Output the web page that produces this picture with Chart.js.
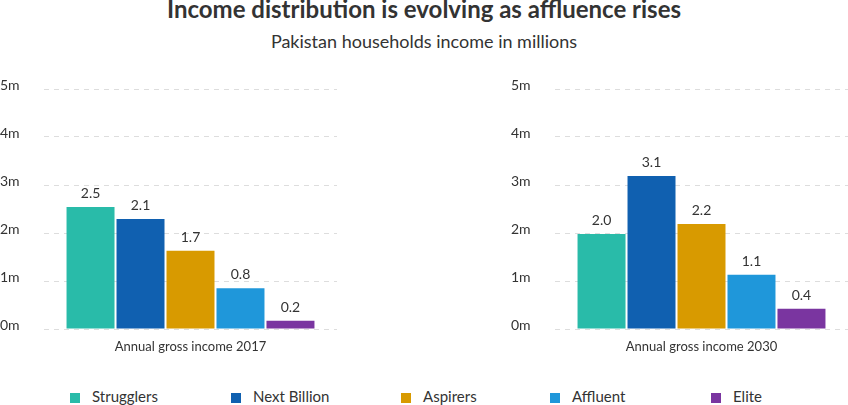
<!DOCTYPE html>
<html>
<head>
<meta charset="utf-8">
<script src="https://cdn.jsdelivr.net/npm/chart.js@4"></script>
<style>
  body { margin: 0; width: 848px; height: 405px; background: #fff; font-family: Lato, sans-serif; color: #333; overflow: hidden; position: relative; }
  .title { position: absolute; left: 0; width: 848px; top: -4px; text-align: center; font-size: 24px; line-height: 26px; font-weight: bold; }
  .subtitle { position: absolute; left: 0; width: 848px; top: 30px; text-align: center; font-size: 18px; line-height: 22px; }
  .panel { position: absolute; top: 69px; width: 337px; height: 300px; }
  .legend-item { position: absolute; top: 387px; font-size: 15px; line-height: 18px; white-space: nowrap; }
  .legend-item span.box { position: absolute; left: 0; top: 6px; width: 10px; height: 10px; }
  .legend-item span.txt { position: absolute; left: 22px; top: 0; }
</style>
</head>
<body>
<div class="title">Income distribution is evolving as affluence rises</div>
<div class="subtitle">Pakistan households income in millions</div>
<div class="panel" style="left:0"><canvas id="c2017"></canvas></div>
<div class="panel" style="left:511px"><canvas id="c2030"></canvas></div>
<div id="legend"></div>

<script>
const segments = ['Strugglers', 'Next Billion', 'Aspirers', 'Affluent', 'Elite'];
const colors = ['#29bba9', '#1060b0', '#d89a00', '#1f97da', '#7a35a0'];

// bar heights as drawn, and the printed labels above them
const values2017 = [2.54, 2.29, 1.63, 0.85, 0.17];
const labels2017 = ['2.5', '2.1', '1.7', '0.8', '0.2'];
const values2030 = [1.98, 3.19, 2.19, 1.13, 0.42];
const labels2030 = ['2.0', '3.1', '2.2', '1.1', '0.4'];

const yTicks = [0, 1, 2, 3, 4, 5];
const legendLeft = [70, 231, 401, 550, 711];

// simple value labels above each bar
const barLabels = {
    id: 'barLabels',
    afterDatasetsDraw(chart, args, opts) {
        const ctx = chart.ctx;
        ctx.save();
        ctx.font = '14px Lato';
        ctx.fillStyle = '#333';
        ctx.textAlign = 'center';
        ctx.textBaseline = 'alphabetic';
        chart.data.datasets.forEach((ds, i) => {
            const meta = chart.getDatasetMeta(i);
            meta.data.forEach(bar => {
                ctx.fillText(opts.texts[i], bar.x, bar.y - 9);
            });
        });
        ctx.restore();
    }
};

const makeChart = (id, category, values, texts) => {
    new Chart(document.getElementById(id), {
        type: 'bar',
        data: {
            labels: [category],
            datasets: segments.map((name, i) => ({
                label: name,
                data: [values[i]],
                backgroundColor: colors[i],
                categoryPercentage: 0.853,
                barPercentage: 0.96
            }))
        },
        options: {
            responsive: true,
            maintainAspectRatio: false,
            animation: false,
            layout: { padding: { top: 20, right: 0, bottom: 0, left: 0 } },
            plugins: {
                legend: { display: false },
                tooltip: { enabled: false },
                barLabels: { texts }
            },
            scales: {
                x: {
                    grid: { display: false, drawTicks: false },
                    border: { display: false },
                    ticks: { color: '#333', font: { family: 'Lato', size: 13 }, padding: 10 },
                    afterFit: s => { s.height = 40; }
                },
                y: {
                    min: 0,
                    max: 5,
                    afterBuildTicks: s => { s.ticks = yTicks.map(v => ({ value: v })); },
                    grid: { color: '#dddddd', drawTicks: false },
                    border: { display: false, dash: [5, 5] },
                    ticks: {
                        color: '#333',
                        font: { family: 'Lato', size: 14 },
                        crossAlign: 'far',
                        labelOffset: -4,
                        callback: v => v + 'm'
                    },
                    afterFit: s => { s.width = 44; }
                }
            }
        },
        plugins: [barLabels]
    });
};

makeChart('c2017', 'Annual gross income 2017', values2017, labels2017);
makeChart('c2030', 'Annual gross income 2030', values2030, labels2030);

const legend = document.getElementById('legend');
segments.forEach((name, i) => {
    const item = document.createElement('div');
    item.className = 'legend-item';
    item.style.left = legendLeft[i] + 'px';
    item.innerHTML = `<span class="box" style="background:${colors[i]}"></span><span class="txt">${name}</span>`;
    legend.appendChild(item);
});
</script>
</body>
</html>
